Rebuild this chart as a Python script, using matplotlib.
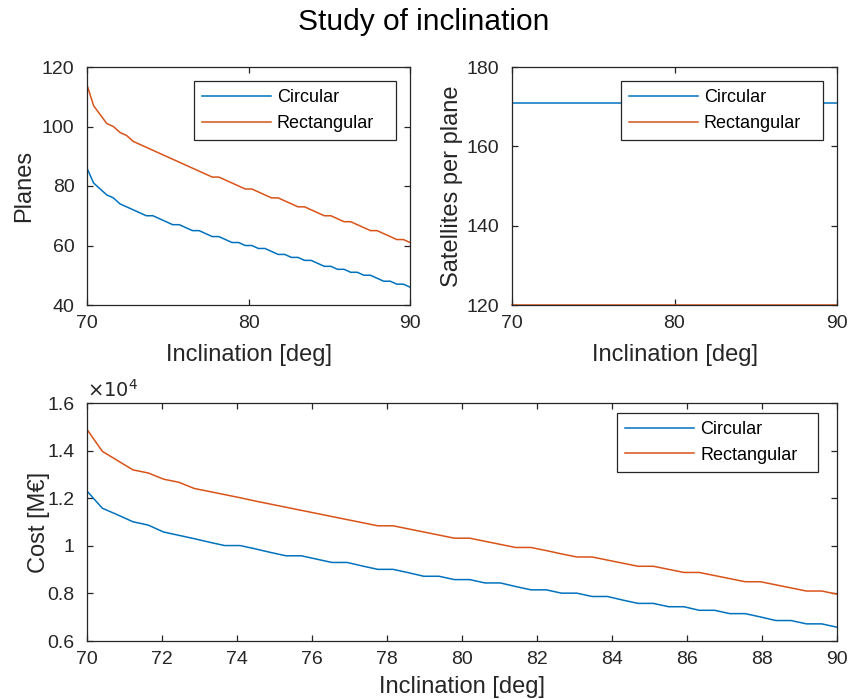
import numpy as np
import matplotlib
matplotlib.use('Agg')
import matplotlib.pyplot as plt
from matplotlib.ticker import FuncFormatter

plt.rcParams['font.family'] = ['Liberation Sans', 'DejaVu Sans']

# inclination grid (50 samples between 70 and 90 deg)
inclination = np.linspace(70, 90, 50)

planes_circ = [86, 81, 79, 77, 76, 74, 73, 72, 71, 70,
               70, 69, 68, 67, 67, 66, 65, 65, 64, 63,
               63, 62, 61, 61, 60, 60, 59, 59, 58, 57,
               57, 56, 56, 55, 55, 54, 53, 53, 52, 52,
               51, 51, 50, 50, 49, 48, 48, 47, 47, 46]
planes_rect = [114, 107, 104, 101, 100, 98, 97, 95, 94, 93,
               92, 91, 90, 89, 88, 87, 86, 85, 84, 83,
               83, 82, 81, 80, 79, 79, 78, 77, 76, 76,
               75, 74, 73, 73, 72, 71, 70, 70, 69, 68,
               68, 67, 66, 65, 65, 64, 63, 62, 62, 61]

sats_circ = [171] * 50
sats_rect = [120] * 50

cost_circ = [12300, 11580, 11300, 11010, 10870, 10580, 10440, 10300, 10150, 10010,
             10010, 9870, 9720, 9580, 9580, 9440, 9300, 9300, 9150, 9010,
             9010, 8870, 8720, 8720, 8580, 8580, 8440, 8440, 8290, 8150,
             8150, 8010, 8010, 7870, 7870, 7720, 7580, 7580, 7440, 7440,
             7290, 7290, 7150, 7150, 7010, 6860, 6860, 6720, 6720, 6580]
cost_rect = [14890, 13970, 13580, 13190, 13060, 12800, 12670, 12410, 12280, 12150,
             12020, 11880, 11750, 11620, 11490, 11360, 11230, 11100, 10970, 10840,
             10840, 10710, 10580, 10450, 10320, 10320, 10190, 10060, 9930, 9930,
             9800, 9660, 9530, 9530, 9400, 9270, 9140, 9140, 9010, 8880,
             8880, 8750, 8620, 8490, 8490, 8360, 8230, 8100, 8100, 7970]

labels = ['Circular', 'Rectangular']
c_blue = '#0072BD'
c_orange = '#D95319'
axis_col = '#262626'

W, H = 848, 699
fig = plt.figure(figsize=(W / 100, H / 100), dpi=100)


def make_axes(l, r, t, b):
    return fig.add_axes([l / W, (H - b) / H, (r - l) / W, (b - t) / H])


def style(ax):
    for s in ax.spines.values():
        s.set_color(axis_col)
        s.set_linewidth(0.9)
    ax.tick_params(direction='in', top=True, right=True, length=4, width=0.9,
                   color=axis_col, labelcolor=axis_col, labelsize=14)
    ax.tick_params(axis='y', pad=9)
    ax.tick_params(axis='x', pad=7)


def legend(ax, x0, x1, y):
    # MATLAB-like box: fixed width, entries left aligned
    leg = ax.legend(labels, loc='upper left', bbox_to_anchor=(x0, y, x1 - x0, 0),
                    mode='expand', fontsize=13, fancybox=False, framealpha=1,
                    edgecolor='#262626', handlelength=3.8, handletextpad=0.35,
                    borderpad=0.45, labelspacing=0.48, borderaxespad=0)
    leg.get_frame().set_linewidth(0.9)


lw = 1.1
lab_fs = 17

# planes
ax1 = make_axes(87, 410, 67, 305)
ax1.plot(inclination, planes_circ, color=c_blue, lw=lw)
ax1.plot(inclination, planes_rect, color=c_orange, lw=lw)
ax1.set_xlim(70, 90)
ax1.set_ylim(40, 120)
ax1.set_xticks([70, 80, 90])
ax1.set_yticks([40, 60, 80, 100, 120])
ax1.set_xlabel('Inclination [deg]', fontsize=lab_fs, color=axis_col, labelpad=9)
ax1.set_ylabel('Planes', fontsize=lab_fs, color=axis_col, labelpad=5)
style(ax1)
legend(ax1, 0.331, 0.957, 0.941)

# satellites per plane
ax2 = make_axes(512, 837, 67, 305)
ax2.plot(inclination, sats_circ, color=c_blue, lw=lw)
ax2.plot(inclination, sats_rect, color=c_orange, lw=lw, clip_on=False)
ax2.set_xlim(70, 90)
ax2.set_ylim(120, 180)
ax2.set_xticks([70, 80, 90])
ax2.set_yticks([120, 140, 160, 180])
ax2.set_xlabel('Inclination [deg]', fontsize=lab_fs, color=axis_col, labelpad=9)
ax2.set_ylabel('Satellites per plane', fontsize=lab_fs, color=axis_col, labelpad=3)
style(ax2)
legend(ax2, 0.335, 0.957, 0.941)

# cost
ax3 = make_axes(87, 837, 403, 641)
ax3.plot(inclination, cost_circ, color=c_blue, lw=lw)
ax3.plot(inclination, cost_rect, color=c_orange, lw=lw)
ax3.set_xlim(70, 90)
ax3.set_ylim(6000, 16000)
ax3.set_xticks(np.arange(70, 91, 2))
ax3.set_yticks([6000, 8000, 10000, 12000, 14000, 16000])
ax3.yaxis.set_major_formatter(FuncFormatter(lambda v, p: f'{v / 1e4:g}'))
ax3.set_xlabel('Inclination [deg]', fontsize=lab_fs, color=axis_col, labelpad=6)
ax3.set_ylabel('Cost [M€]', fontsize=lab_fs, color=axis_col, labelpad=-2)
ax3.text(0.0, 1.01, r'$\times 10^{4}$', transform=ax3.transAxes, fontsize=14,
         color=axis_col, ha='left', va='bottom')
style(ax3)
legend(ax3, 0.7067, 0.975, 0.958)

fig.text(0.5, 1 - 22 / H, 'Study of inclination', ha='center', va='center',
         fontsize=21.5, color='black')

fig.savefig('out.png', dpi=100)
